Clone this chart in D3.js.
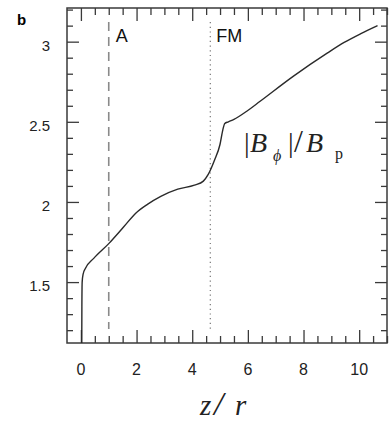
<!DOCTYPE html>
<html>
<head>
<meta charset="utf-8">
<script src="https://cdn.jsdelivr.net/npm/d3@7"></script>
<style>
  body { margin: 0; background: #fff; }
  svg { display: block; }
</style>
</head>
<body>
<div id="chart"></div>
<script>
// curve |B_phi|/B_p against z/r
const zr = [0.030, 0.035, 0.045, 0.08, 0.16, 0.46, 1.0, 1.54, 1.97, 2.39, 2.87, 3.48, 4.08, 4.4, 4.57, 4.8, 5.0, 5.1, 5.17, 5.3, 5.5, 5.96, 6.44, 7.64, 8.85, 9.46, 10.06, 10.66];
const ratio = [1.12, 1.35, 1.50, 1.55, 1.585, 1.648, 1.74, 1.845, 1.93, 1.985, 2.035, 2.08, 2.105, 2.13, 2.17, 2.26, 2.36, 2.45, 2.49, 2.50, 2.515, 2.566, 2.628, 2.785, 2.928, 2.995, 3.05, 3.10];

const xMajor = [0, 2, 4, 6, 8, 10];
const yMajor = [1.5, 2, 2.5, 3];
const markers = [{ name: "A", z: 1.0, style: "dashed" }, { name: "FM", z: 4.65, style: "dotted" }];

const width = 391;
const height = 423;
const margin = { top: 8, right: 4, bottom: 80, left: 67 };

const x = d3.scaleLinear([-0.5, 11], [margin.left, width - margin.right]);
const y = d3.scaleLinear([1.12, 3.21], [height - margin.bottom, margin.top]);

const xMinor = d3.range(0, 11.01, 0.5).filter((v) => !xMajor.includes(v));
const yMinor = d3.range(1.2, 3.21, 0.1).map((v) => +v.toFixed(1)).filter((v) => !yMajor.includes(v));

const svg = d3.select("#chart").append("svg").attr("width", width).attr("height", height);

const axisColor = "#3a3a3a";

// frame
svg.append("rect")
  .attr("x", margin.left).attr("y", margin.top)
  .attr("width", width - margin.right - margin.left)
  .attr("height", height - margin.bottom - margin.top)
  .attr("fill", "none").attr("stroke", axisColor).attr("stroke-width", 1.5);

function ticks(g, axis) {
  g.call(axis);
  g.select(".domain").remove();
  g.selectAll(".tick line").attr("stroke", axisColor).attr("stroke-width", 1.3);
}

const yb = height - margin.bottom, yt = margin.top, xl = margin.left, xr = width - margin.right;

// bottom + top ticks (pointing inward)
svg.append("g").attr("transform", `translate(0,${yb})`)
  .call(ticks, d3.axisTop(x).tickValues(xMajor).tickSize(13).tickFormat(""));
svg.append("g").attr("transform", `translate(0,${yb})`)
  .call(ticks, d3.axisTop(x).tickValues(xMinor).tickSize(7).tickFormat(""));
svg.append("g").attr("transform", `translate(0,${yt})`)
  .call(ticks, d3.axisBottom(x).tickValues(xMajor).tickSize(13).tickFormat(""));
svg.append("g").attr("transform", `translate(0,${yt})`)
  .call(ticks, d3.axisBottom(x).tickValues(xMinor).tickSize(7).tickFormat(""));

// left + right ticks
svg.append("g").attr("transform", `translate(${xl},0)`)
  .call(ticks, d3.axisRight(y).tickValues(yMajor).tickSize(12).tickFormat(""));
svg.append("g").attr("transform", `translate(${xl},0)`)
  .call(ticks, d3.axisRight(y).tickValues(yMinor).tickSize(6).tickFormat(""));
svg.append("g").attr("transform", `translate(${xr},0)`)
  .call(ticks, d3.axisLeft(y).tickValues(yMajor).tickSize(12).tickFormat(""));
svg.append("g").attr("transform", `translate(${xr},0)`)
  .call(ticks, d3.axisLeft(y).tickValues(yMinor).tickSize(6).tickFormat(""));

// tick labels
const sans = "'Liberation Sans', Arial, sans-serif";
svg.append("g")
  .selectAll("text").data(xMajor).join("text")
  .attr("x", (d) => x(d)).attr("y", yb + 32)
  .attr("text-anchor", "middle")
  .attr("font-family", sans).attr("font-size", 16).attr("fill", "#222")
  .text((d) => d);
svg.append("g")
  .selectAll("text").data(yMajor).join("text")
  .attr("x", xl - 17).attr("y", (d) => y(d) + 9)
  .attr("text-anchor", "end")
  .attr("font-family", sans).attr("font-size", 15).attr("fill", "#222")
  .text((d) => d);

// marker lines
svg.append("g")
  .selectAll("line").data(markers).join("line")
  .attr("x1", (d) => x(d.z)).attr("x2", (d) => x(d.z))
  .attr("y1", yt + 14).attr("y2", yb - 14)
  .attr("stroke", (d) => d.style === "dashed" ? "#8a8a8a" : "#777")
  .attr("stroke-width", (d) => d.style === "dashed" ? 1.6 : 1.2)
  .attr("stroke-dasharray", (d) => d.style === "dashed" ? "9,6" : "1.2,3.5");

svg.append("g")
  .selectAll("text").data(markers).join("text")
  .attr("x", (d) => x(d.z) + (d.style === "dashed" ? 7 : 6))
  .attr("y", 42)
  .attr("font-family", sans).attr("font-size", 18).attr("fill", "#111")
  .text((d) => d.name);

// panel letter
svg.append("text").attr("x", 17).attr("y", 25)
  .attr("font-family", sans).attr("font-weight", "bold").attr("font-size", 15)
  .text("b");

// curve
const line = d3.line()
  .x((d, i) => x(zr[i]))
  .y((d) => y(d))
  .curve(d3.curveMonotoneX);

svg.append("path")
  .attr("d", line(ratio))
  .attr("fill", "none")
  .attr("stroke", "#2a2a2a")
  .attr("stroke-width", 1.4);

// curve label |B_phi| / B_p
const serif = "'Liberation Serif', 'Times New Roman', serif";
const lab = svg.append("text").attr("y", 152)
  .attr("font-family", serif).attr("font-size", 28).attr("fill", "#222");
lab.append("tspan").attr("x", 244).text("|");
lab.append("tspan").attr("x", 250).attr("font-style", "italic").text("B");
lab.append("tspan").attr("x", 273).attr("font-style", "italic").attr("font-size", 16).attr("dy", 9).text("\u03D5");
lab.append("tspan").attr("x", 288).attr("dy", -9).text("|");
lab.append("tspan").attr("x", 294).attr("font-size", 32).text("/");
lab.append("tspan").attr("x", 306).attr("font-style", "italic").text("B");
lab.append("tspan").attr("x", 335).attr("font-size", 16).attr("dy", 7).text("p");

// x axis title
const xt = svg.append("text").attr("y", 415)
  .attr("font-family", serif).attr("font-size", 29).attr("font-style", "italic").attr("fill", "#222");
xt.append("tspan").attr("x", 200).text("z");
xt.append("tspan").attr("x", 214).attr("font-size", 34).text("/");
xt.append("tspan").attr("x", 235).text("r");
</script>
</body>
</html>
